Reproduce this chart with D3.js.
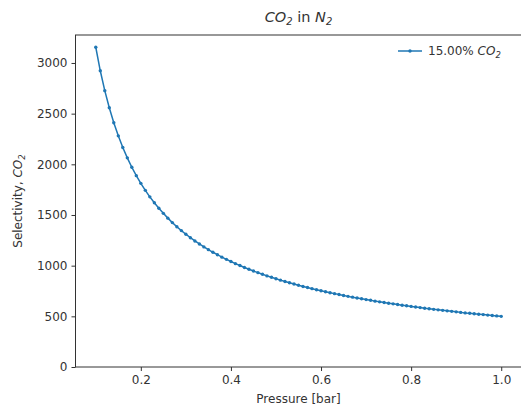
<!DOCTYPE html>
<html>
<head>
<meta charset="utf-8">
<script src="https://cdn.jsdelivr.net/npm/d3@7"></script>
<style>
  body { margin: 0; background: #fff; }
  svg text { font-family: "DejaVu Sans", sans-serif; fill: #333; }
</style>
</head>
<body>
<div id="chart"></div>
<script>
// pressure (bar) and CO2 selectivity
const pressure = [0.10,0.11,0.12,0.13,0.14,0.15,0.16,0.17,0.18,0.19,
  0.20,0.21,0.22,0.23,0.24,0.25,0.26,0.27,0.28,0.29,
  0.30,0.31,0.32,0.33,0.34,0.35,0.36,0.37,0.38,0.39,
  0.40,0.41,0.42,0.43,0.44,0.45,0.46,0.47,0.48,0.49,
  0.50,0.51,0.52,0.53,0.54,0.55,0.56,0.57,0.58,0.59,
  0.60,0.61,0.62,0.63,0.64,0.65,0.66,0.67,0.68,0.69,
  0.70,0.71,0.72,0.73,0.74,0.75,0.76,0.77,0.78,0.79,
  0.80,0.81,0.82,0.83,0.84,0.85,0.86,0.87,0.88,0.89,
  0.90,0.91,0.92,0.93,0.94,0.95,0.96,0.97,0.98,0.99,1.00]
const selectivity = [3155,2923,2727,2558,2410,2281,2166,2064,1971,1888,
  1812,1743,1679,1620,1566,1516,1469,1425,1384,1346,
  1310,1276,1244,1214,1185,1158,1132,1108,1084,1062,
  1041,1020,1001,982,964,947,931,915,899,885,
  871,857,844,831,819,807,795,784,773,763,
  752,743,733,724,715,706,697,689,681,673,
  665,658,650,643,636,629,623,616,610,604,
  598,592,586,580,575,569,564,559,554,549,
  544,539,534,530,525,521,517,512,508,504,500]
const xTicks = [0.2, 0.4, 0.6, 0.8, 1.0]
const yTicks = [0, 500, 1000, 1500, 2000, 2500, 3000]

const width = 521
const height = 408
const mLeft = 75.5, mRight = 521.5, mTop = 35, mBottom = 367
const blue = '#1f77b4'

const svg = d3.select('#chart').append('svg')
    .attr('width', width)
    .attr('height', height)

let xScale = d3.scaleLinear().domain([0.055, 1.045]).range([mLeft, mRight])
let yScale = d3.scaleLinear().domain([0, 3276]).range([mBottom, mTop])

let xAxis = d3.axisBottom(xScale).tickValues(xTicks).tickFormat(d3.format('.1f')).tickSizeOuter(0).tickSize(4).tickPadding(4)
let yAxis = d3.axisLeft(yScale).tickValues(yTicks).tickFormat(d3.format('d')).tickSizeOuter(0).tickSize(4).tickPadding(4)

const data = pressure.map((p, i) => ({p: p, s: selectivity[i]}))

// frame
svg.append('rect')
    .attr('x', mLeft).attr('y', mTop)
    .attr('width', mRight - mLeft).attr('height', mBottom - mTop)
    .attr('fill', 'none').attr('stroke', '#333').attr('stroke-width', 1)

const xg = svg.append('g').attr('transform', `translate(0,${mBottom})`).call(xAxis)
const yg = svg.append('g').attr('transform', `translate(${mLeft},0)`).call(yAxis)
xg.select('.domain').remove()
yg.select('.domain').remove()
svg.selectAll('.tick line').attr('stroke', '#333')
svg.selectAll('.tick text').style('font-size', '12px').style('fill', '#333').style('font-family', '"DejaVu Sans", sans-serif')

// curve
const line = d3.line().x(d => xScale(d.p)).y(d => yScale(d.s))
svg.append('path')
    .datum(data)
    .attr('d', line)
    .attr('fill', 'none')
    .attr('stroke', blue)
    .attr('stroke-width', 1.5)

svg.append('g').selectAll('circle')
    .data(data)
    .join('circle')
    .attr('cx', d => xScale(d.p))
    .attr('cy', d => yScale(d.s))
    .attr('r', 1.7)
    .attr('fill', blue)

// title
const title = svg.append('text')
    .attr('x', (mLeft + mRight) / 2).attr('y', 22)
    .attr('text-anchor', 'middle')
    .style('font-size', '14.5px')
title.append('tspan').style('font-style', 'italic').text('CO')
title.append('tspan').attr('dy', 3).style('font-size', '10px').style('font-style', 'italic').text('2')
title.append('tspan').attr('dy', -3).text(' in ')
title.append('tspan').style('font-style', 'italic').text('N')
title.append('tspan').attr('dy', 3).style('font-size', '10px').style('font-style', 'italic').text('2')

// axis titles
svg.append('text')
    .attr('x', (mLeft + mRight) / 2).attr('y', 403)
    .attr('text-anchor', 'middle')
    .style('font-size', '12px')
    .text('Pressure [bar]')

const ylab = svg.append('text')
    .attr('transform', `translate(22,${(mTop + mBottom) / 2}) rotate(-90)`)
    .attr('text-anchor', 'middle')
    .style('font-size', '12px')
ylab.append('tspan').text('Selectivity, ')
ylab.append('tspan').style('font-style', 'italic').text('CO')
ylab.append('tspan').attr('dy', 3).style('font-size', '8.5px').style('font-style', 'italic').text('2')

// legend
const lg = svg.append('g').attr('transform', 'translate(398,51)')
lg.append('line').attr('x1', 0).attr('x2', 24).attr('y1', 0).attr('y2', 0)
    .attr('stroke', blue).attr('stroke-width', 1.5)
lg.append('circle').attr('cx', 12).attr('cy', 0).attr('r', 1.7).attr('fill', blue)
const lt = lg.append('text').attr('x', 30).attr('y', 4).style('font-size', '12px')
lt.append('tspan').text('15.00% ')
lt.append('tspan').style('font-style', 'italic').text('CO')
lt.append('tspan').attr('dy', 3).style('font-size', '8.5px').style('font-style', 'italic').text('2')
</script>
</body>
</html>
